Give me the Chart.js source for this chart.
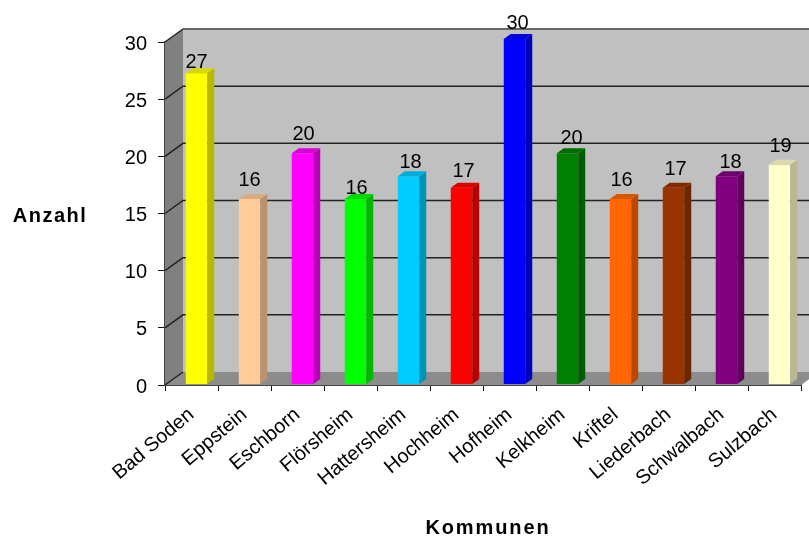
<!DOCTYPE html>
<html>
<head>
<meta charset="utf-8">
<style>
  html, body { margin: 0; padding: 0; background: #fff; }
  canvas { display: block; }
</style>
<script src="https://cdn.jsdelivr.net/npm/chart.js@4"></script>
</head>
<body>
<canvas id="chart" width="809" height="538"></canvas>
<script>
const kommunen = ['Bad Soden', 'Eppstein', 'Eschborn', 'Flörsheim', 'Hattersheim', 'Hochheim',
  'Hofheim', 'Kelkheim', 'Kriftel', 'Liederbach', 'Schwalbach', 'Sulzbach'];
const anzahl = [27, 16, 20, 16, 18, 17, 30, 20, 16, 17, 18, 19];
const barColors = ['#ffff00', '#ffcc99', '#ff00ff', '#00ff00', '#00ccff', '#ff0000',
  '#0000ff', '#008000', '#ff6600', '#993300', '#800080', '#ffffcc'];
// the labels in the original are not quite centred over their bars
const labelDx = [1, 1, 2, 2, 3, 3, 4, 5, 2, 3, 5, 2];
const labelLift = [11, 19, 19, 11, 14, 16, 16, 15, 19, 18, 14, 18];

const FONT = '"Liberation Sans", Arial, sans-serif';
const WALL_DX = 18, WALL_DY = -13;   // depth of the box
const BAR_DX = 5, BAR_DY = -3;       // bars stand a little behind the front plane
const SIDE_DX = 7, SIDE_DY = -5;     // depth of one bar

function shade(hex, f) {
  const n = parseInt(hex.slice(1), 16);
  const c = [n >> 16, (n >> 8) & 255, n & 255].map(v => Math.round(v * f));
  return `rgb(${c[0]},${c[1]},${c[2]})`;
}

function quad(ctx, pts, fill) {
  ctx.beginPath();
  pts.forEach((p, i) => i ? ctx.lineTo(p[0], p[1]) : ctx.moveTo(p[0], p[1]));
  ctx.closePath();
  ctx.fillStyle = fill;
  ctx.fill();
}

const box3d = {
  id: 'box3d',
  beforeDatasetsDraw(chart) {
    const { ctx, chartArea: a, scales: { y } } = chart;
    const dx = WALL_DX, dy = WALL_DY;
    ctx.save();
    // back wall, left wall, floor
    quad(ctx, [[a.left + dx, a.top + dy], [809, a.top + dy], [809, a.bottom + dy], [a.left + dx, a.bottom + dy]], '#c0c0c0');
    quad(ctx, [[a.left, a.top], [a.left + dx, a.top + dy], [a.left + dx, a.bottom + dy], [a.left, a.bottom]], '#808080');
    quad(ctx, [[a.left, a.bottom], [a.left + dx, a.bottom + dy], [a.right + dx, a.bottom + dy], [a.right, a.bottom]], '#8c8c8c');
    // gridlines run over the left wall and along the back
    ctx.strokeStyle = '#222';
    ctx.lineWidth = 1.5;
    y.ticks.forEach(t => {
      const py = y.getPixelForValue(t.value);
      ctx.beginPath();
      ctx.moveTo(a.left, py);
      ctx.lineTo(a.left + dx, py + dy);
      if (t.value > 0 && t.value < 30) ctx.lineTo(809, py + dy);
      ctx.stroke();
    });
    ctx.strokeStyle = '#666';
    ctx.lineWidth = 2;
    ctx.beginPath();
    ctx.moveTo(a.left + dx, a.top + dy);
    ctx.lineTo(809, a.top + dy);
    ctx.stroke();
    ctx.restore();
    // bars are drawn by the library, only pushed back into the box
    ctx.save();
    ctx.translate(BAR_DX, BAR_DY);
  },
  afterDatasetsDraw(chart) {
    const { ctx } = chart;
    chart.getDatasetMeta(0).data.forEach((bar, i) => {
      const r = bar.x + bar.width / 2, l = bar.x - bar.width / 2;
      const col = barColors[i];
      quad(ctx, [[r, bar.y], [r + SIDE_DX, bar.y + SIDE_DY], [r + SIDE_DX, bar.base + SIDE_DY], [r, bar.base]], shade(col, 0.72));
      quad(ctx, [[l, bar.y], [l + SIDE_DX, bar.y + SIDE_DY], [r + SIDE_DX, bar.y + SIDE_DY], [r, bar.y]], shade(col, 0.85));
    });
    ctx.restore();
  },
  afterDraw(chart) {
    const { ctx, scales: { y } } = chart;
    ctx.save();
    ctx.fillStyle = '#000';
    ctx.textAlign = 'center';
    ctx.textBaseline = 'middle';
    ctx.font = '20px ' + FONT;
    chart.getDatasetMeta(0).data.forEach((bar, i) => {
      ctx.fillText(String(anzahl[i]), bar.x + BAR_DX + labelDx[i] - 1,
        y.getPixelForValue(anzahl[i]) + BAR_DY - labelLift[i]);
    });
    // axis titles, spaced out like the original
    ctx.font = 'bold 20px ' + FONT;
    ctx.letterSpacing = '1.5px';
    ctx.fillText('Anzahl', 50, 216);
    ctx.letterSpacing = '1.9px';
    ctx.fillText('Kommunen', 488, 528);
    ctx.restore();
  }
};

new Chart(document.getElementById('chart').getContext('2d'), {
  type: 'bar',
  plugins: [box3d],
  data: {
    labels: kommunen,
    datasets: [{
      data: anzahl,
      backgroundColor: barColors,
      borderWidth: 0,
      base: -0.17,
      clip: false,
      categoryPercentage: 1,
      barPercentage: 0.405
    }]
  },
  options: {
    responsive: false,
    animation: false,
    layout: { padding: { top: 42, right: 8, left: 0, bottom: 0 } },
    plugins: { legend: { display: false }, tooltip: { enabled: false } },
    scales: {
      x: {
        afterFit: s => { s.height = 153; },
        grid: { drawOnChartArea: false, color: '#111', tickLength: 6, tickColor: '#111' },
        border: { color: '#444', width: 2 },
        ticks: { color: '#000', font: { family: FONT, size: 20 }, minRotation: 40, maxRotation: 40, padding: 12, autoSkip: false }
      },
      y: {
        min: 0,
        max: 30,
        afterFit: s => { s.width = 165; },
        grid: { drawOnChartArea: false, tickLength: 7, tickColor: '#111' },
        border: { color: '#444', width: 2 },
        ticks: { stepSize: 5, color: '#000', font: { family: FONT, size: 20 }, padding: 11, labelOffset: 2 }
      }
    }
  }
});
</script>
</body>
</html>
